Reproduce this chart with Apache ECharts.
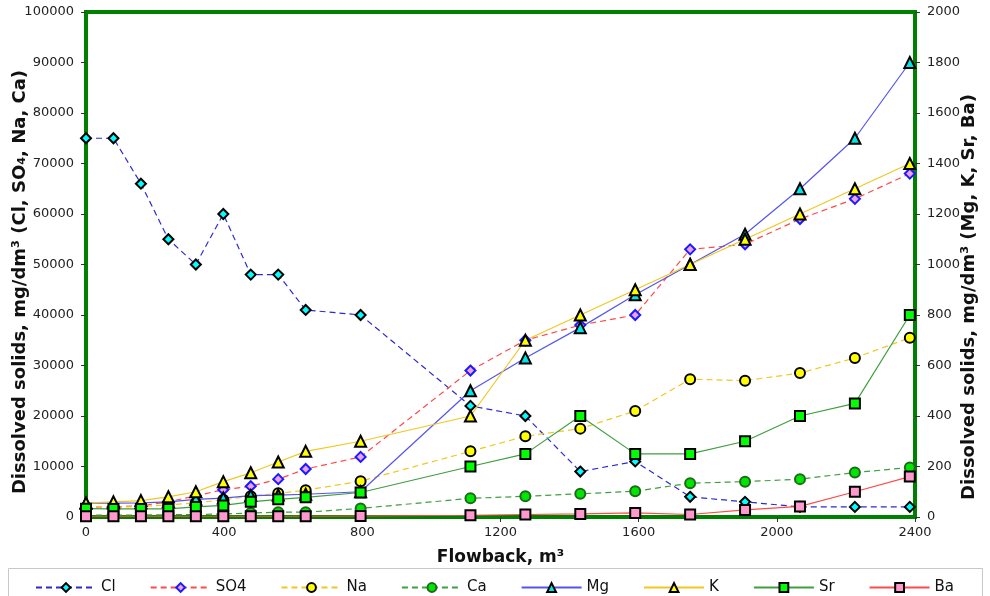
<!DOCTYPE html>
<html>
<head>
<meta charset="utf-8">
<script src="https://cdn.jsdelivr.net/npm/echarts@6/dist/echarts.min.js"></script>
<style>
  html, body { margin: 0; padding: 0; background: #fff; }
  #chart { width: 990px; height: 596px; }
</style>
</head>
<body>
<div id="chart"></div>
<script>
// Cumulative flowback volume (m³) at each sample
const flowback = [0, 79.5, 159, 238.5, 318, 397.5, 477, 556.5, 636, 795, 1113, 1272, 1431, 1590, 1749, 1908, 2067, 2226, 2385];

// Primary axis species (mg/dm³)
const cl  = [75000, 75000, 66000, 55000, 50000, 60000, 48000, 48000, 41000, 40000, 22000, 20000, 9000, 11000, 4000, 3000, 2000, 2000, 2000];
const so4 = [1900, 2000, 2200, 3000, 4200, 5400, 6100, 7500, 9500, 11900, 29000, 35000, 38000, 40000, 53000, 54000, 59000, 63000, 68000];
const na  = [1800, 1900, 2100, 2400, 2800, 3400, 4100, 4700, 5300, 7100, 13000, 16000, 17500, 21000, 27300, 27000, 28500, 31500, 35500];
const ca  = [400, 400, 400, 450, 500, 600, 800, 950, 950, 1700, 3700, 4100, 4600, 5100, 6700, 7000, 7500, 8800, 9800];

// Secondary axis species (mg/dm³)
const mg = [55, 55, 56, 60, 70, 75, 85, 87, 90, 100, 500, 630, 750, 880, 1000, 1120, 1300, 1500, 1800];
const k  = [55, 60, 65, 80, 100, 140, 175, 218, 260, 300, 400, 700, 800, 900, 1000, 1100, 1200, 1300, 1400];
const sr = [33, 32, 32, 32, 40, 46, 60, 70, 78, 97, 200, 250, 400, 250, 250, 300, 400, 450, 800];
const ba = [3, 3, 3, 3, 3, 3, 3, 3, 3, 4, 7, 10, 12, 16, 10, 28, 42, 100, 160];

const xTicks = { min: 0, max: 2400, interval: 400 };
const leftTicks = { min: 0, max: 100000, interval: 10000 };
const rightTicks = { min: 0, max: 2000, interval: 200 };

const leftTitle = 'Dissolved solids, mg/dm³ (Cl, SO₄, Na, Ca)';
const rightTitle = 'Dissolved solids, mg/dm³ (Mg, K, Sr, Ba)';
const xTitle = 'Flowback, m³';

const FONT = '"DejaVu Sans", "Liberation Sans", Arial, sans-serif';

function pairs(ys) { return flowback.map((x, i) => [x, ys[i]]); }

function makeSeries(name, ys, axisIdx, o) {
  return {
    name: name,
    type: 'line',
    yAxisIndex: axisIdx,
    data: pairs(ys),
    symbol: o.symbol,
    symbolSize: o.size,
    showSymbol: true,
    animation: false,
    lineStyle: { color: o.line, width: 1.2, type: o.dash ? [6, 4] : 'solid' },
    itemStyle: { color: o.fill, borderColor: o.border || '#000', borderWidth: 2 },
    emphasis: { disabled: true }
  };
}

const series = [
  makeSeries('Cl',  cl,  0, { symbol: 'diamond',  size: 10, line: '#2b2bd0', fill: '#00ffff', dash: true }),
  makeSeries('SO4', so4, 0, { symbol: 'diamond',  size: 10, line: '#ff4a4a', fill: '#f0a0f0', border: '#1a1aff', dash: true }),
  makeSeries('Na',  na,  0, { symbol: 'circle',   size: 10, line: '#f0c820', fill: '#ffff00', dash: true }),
  makeSeries('Ca',  ca,  0, { symbol: 'circle',   size: 10, line: '#3f9f3f', fill: '#00e600', border: '#1d6a1d', dash: true }),
  makeSeries('Mg',  mg,  1, { symbol: 'triangle', size: 11, line: '#5555ee', fill: '#00e5e5' }),
  makeSeries('K',   k,   1, { symbol: 'triangle', size: 11, line: '#f0c820', fill: '#ffff00' }),
  makeSeries('Sr',  sr,  1, { symbol: 'rect',     size: 10, line: '#3f9f3f', fill: '#00ff00' }),
  makeSeries('Ba',  ba,  1, { symbol: 'rect',     size: 10, line: '#ff4a4a', fill: '#ff99cc' })
];

const plain = v => String(v);
const axisLabel = { color: '#222', fontFamily: FONT, fontSize: 13, formatter: plain };
const nameStyle = { color: '#111', fontFamily: FONT, fontSize: 17, fontWeight: 'bold' };

const chart = echarts.init(document.getElementById('chart'), null, { renderer: 'canvas' });
chart.setOption({
  backgroundColor: '#ffffff',
  animation: false,
  grid: {
    left: 86, right: 75, top: 12, bottom: 79,
    outerBoundsMode: 'none', containLabel: false,
    show: true, borderColor: '#008000', borderWidth: 4, backgroundColor: '#ffffff'
  },
  legend: {
    left: 30, top: 575, width: 960,
    itemWidth: 60, itemHeight: 11, itemGap: 34,
    textStyle: { color: '#111', fontFamily: FONT, fontSize: 15 },
    data: series.map(s => s.name)
  },
  graphic: [{
    type: 'rect', left: 8, top: 568, z: -1,
    shape: { width: 974, height: 40 },
    style: { fill: '#fff', stroke: '#c8c8c8', lineWidth: 1 }
  }, {
    type: 'text', x: 20, y: 282, rotation: Math.PI / 2,
    style: { text: leftTitle, align: 'center', verticalAlign: 'middle', fill: '#111',
      font: 'bold 18px ' + FONT }
  }, {
    type: 'text', x: 969, y: 297, rotation: Math.PI / 2,
    style: { text: rightTitle, align: 'center', verticalAlign: 'middle', fill: '#111',
      font: 'bold 18px ' + FONT }
  }],
  xAxis: {
    type: 'value', min: xTicks.min, max: xTicks.max, interval: xTicks.interval,
    name: xTitle, nameLocation: 'middle', nameGap: 32, nameTextStyle: nameStyle,
    axisLine: { show: false },
    axisTick: { show: true, inside: false, length: 5, lineStyle: { color: '#333' } },
    splitLine: { show: false },
    axisLabel: Object.assign({ margin: 9 }, axisLabel)
  },
  yAxis: [{
    type: 'value', min: leftTicks.min, max: leftTicks.max, interval: leftTicks.interval,
    position: 'left',
    axisLine: { show: false },
    axisTick: { show: true, length: 5, lineStyle: { color: '#333' } },
    splitLine: { show: false },
    axisLabel: Object.assign({ margin: 12 }, axisLabel)
  }, {
    type: 'value', min: rightTicks.min, max: rightTicks.max, interval: rightTicks.interval,
    position: 'right',
    axisLine: { show: false },
    axisTick: { show: true, length: 5, lineStyle: { color: '#333' } },
    splitLine: { show: false },
    axisLabel: Object.assign({ margin: 12 }, axisLabel)
  }],
  series: series
});
</script>
</body>
</html>
